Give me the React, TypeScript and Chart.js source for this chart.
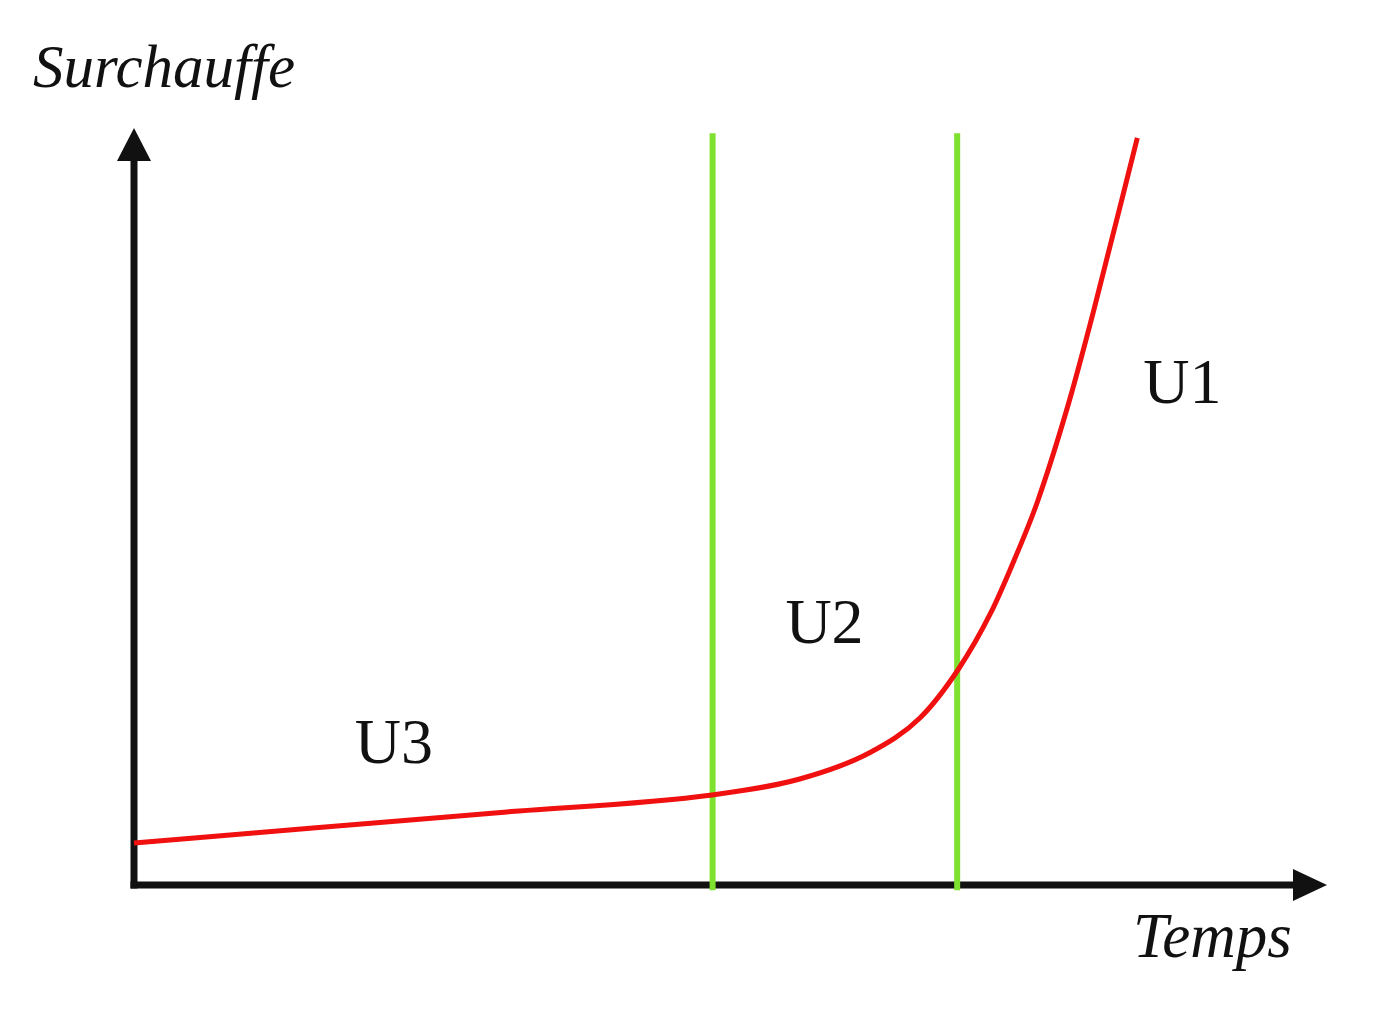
import React, { useEffect, useRef } from "react";
import { Chart, registerables } from "chart.js";

Chart.register(...registerables);

// Temps (x) and Surchauffe (y) values for the red curve
const tempsValues = [0, 1.5, 3.05, 4.845, 5.58, 6.17, 6.59, 6.91, 7.18, 7.38, 7.57, 7.83, 8.04, 8.41];
const surchauffeValues = [0.555, 0.752, 0.955, 1.19, 1.4, 1.75, 2.21, 2.85, 3.59, 4.3, 5.05, 6.34, 7.56, 9.87];

// Zone boundaries (vertical green lines)
const boundaries = [4.85, 6.9];
const boundaryRange = [-0.07, 9.93];

// Zone labels
const zoneLabels = ["U3", "U2", "U1"];
const zoneLabelX = [1.85, 5.46, 8.46];
const zoneLabelY = [1.61, 3.2, 6.37];

const axisTitleY = "Surchauffe";
const axisTitleX = "Temps";

const X_MAX = 10;
const Y_MAX = 10;

export default function App() {
  const ref = useRef<HTMLCanvasElement | null>(null);

  useEffect(() => {
    if (!ref.current) return;

    const axesPlugin = {
      id: "arrowAxes",
      beforeDatasetsDraw(chart: any) {
        const { ctx, chartArea } = chart;
        const { left, right, top, bottom } = chartArea;
        ctx.save();
        ctx.fillStyle = "#111";
        ctx.strokeStyle = "#111";
        ctx.lineWidth = 7;
        ctx.lineCap = "butt";
        // y axis
        ctx.beginPath();
        ctx.moveTo(left, bottom + 3.5);
        ctx.lineTo(left, top + 30);
        ctx.stroke();
        ctx.beginPath();
        ctx.moveTo(left, top);
        ctx.lineTo(left - 17, top + 33);
        ctx.lineTo(left + 17, top + 33);
        ctx.closePath();
        ctx.fill();
        // x axis
        ctx.beginPath();
        ctx.moveTo(left - 3.5, bottom);
        ctx.lineTo(right - 32, bottom);
        ctx.stroke();
        ctx.beginPath();
        ctx.moveTo(right, bottom);
        ctx.lineTo(right - 34, bottom - 16);
        ctx.lineTo(right - 34, bottom + 16);
        ctx.closePath();
        ctx.fill();
        ctx.restore();
      },
      afterDatasetsDraw(chart: any) {
        const { ctx, chartArea, scales } = chart;
        const xs = scales.x;
        const ys = scales.y;
        ctx.save();
        ctx.fillStyle = "#111";
        ctx.textBaseline = "alphabetic";
        ctx.textAlign = "left";
        ctx.font = "64px 'Liberation Serif', 'Times New Roman', serif";
        zoneLabels.forEach((t, i) => {
          ctx.fillText(t, xs.getPixelForValue(zoneLabelX[i]), ys.getPixelForValue(zoneLabelY[i]));
        });
        ctx.font = "italic 61px 'Liberation Serif', 'Times New Roman', serif";
        ctx.fillText(axisTitleY, chartArea.left - 101, chartArea.top - 41);
        ctx.font = "italic 63px 'Liberation Serif', 'Times New Roman', serif";
        ctx.fillText(axisTitleX, chartArea.right - 194, chartArea.bottom + 72);
        ctx.restore();
      },
    };

    const curve = tempsValues.map((x, i) => ({ x, y: surchauffeValues[i] }));
    const greenSets = boundaries.map((b) => ({
      data: boundaryRange.map((y) => ({ x: b, y })),
      borderColor: "#7ee12f",
      borderWidth: 6,
      pointRadius: 0,
      tension: 0,
      clip: false as any,
      order: 2,
    }));

    const chart = new Chart(ref.current, {
      type: "line",
      data: {
        datasets: [
          ...greenSets,
          {
            data: curve,
            borderColor: "#f01010",
            borderWidth: 5,
            pointRadius: 0,
            cubicInterpolationMode: "monotone",
            clip: false as any,
            order: 1,
          },
        ],
      },
      options: {
        animation: false,
        responsive: false,
        maintainAspectRatio: false,
        layout: { padding: { left: 134, right: 73, top: 128, bottom: 126 } },
        plugins: { legend: { display: false }, tooltip: { enabled: false }, title: { display: false } },
        scales: {
          x: { type: "linear", min: 0, max: X_MAX, display: false },
          y: { type: "linear", min: 0, max: Y_MAX, display: false },
        },
      },
      plugins: [axesPlugin],
    });
    return () => chart.destroy();
  }, []);

  return (
    <div style={{ position: "fixed", left: 0, top: 0, width: 1400, height: 1011, background: "#fff" }}>
      <canvas ref={ref} width={1400} height={1011} style={{ width: 1400, height: 1011, display: "block" }} />
    </div>
  );
}
